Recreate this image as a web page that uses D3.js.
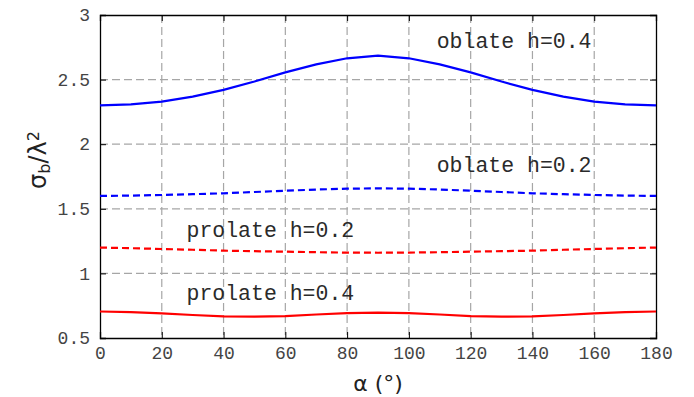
<!DOCTYPE html>
<html><head><meta charset="utf-8">
<script src="https://cdn.jsdelivr.net/npm/d3@7"></script>
<style>
html,body{margin:0;padding:0;background:#fff;}
svg{display:block;}
</style></head>
<body>
<svg id="chart" width="694" height="397"></svg>
<script>
const alpha = [0,10,20,30,40,50,60,70,80,90,100,110,120,130,140,150,160,170,180];
const oblate04 = [2.300,2.308,2.329,2.368,2.420,2.485,2.556,2.618,2.665,2.685,2.665,2.618,2.556,2.485,2.420,2.368,2.329,2.308,2.300];
const oblate02 = [1.600,1.602,1.607,1.613,1.620,1.630,1.640,1.649,1.656,1.658,1.656,1.649,1.640,1.630,1.620,1.613,1.607,1.602,1.600];
const prolate02 = [1.200,1.195,1.189,1.183,1.176,1.172,1.168,1.164,1.161,1.160,1.161,1.164,1.168,1.172,1.176,1.183,1.189,1.195,1.200];
const prolate04 = [0.705,0.700,0.690,0.678,0.668,0.665,0.670,0.682,0.692,0.697,0.692,0.682,0.670,0.665,0.668,0.678,0.690,0.700,0.705];
const xTicks = [0,20,40,60,80,100,120,140,160,180];
const yTicks = [0.5,1,1.5,2,2.5,3];
const yTickLabels = ["0.5","1","1.5","2","2.5","3"];
const seriesNames = ["oblate h=0.4","oblate h=0.2","prolate h=0.2","prolate h=0.4"];
const labelAlpha = [109,109,28,28];
const labelValue = [2.745,1.788,1.282,0.794];

const svg = d3.select("#chart");
const L = 100, R = 656, T = 15, B = 338;
const x = d3.scaleLinear().domain([0,180]).range([L,R]);
const y = d3.scaleLinear().domain([0.5,3]).range([B,T]);
const mono = "'Liberation Mono','Courier New',monospace";

// grid
const g = svg.append("g");
g.selectAll("line.vg").data(xTicks.slice(1,-1)).enter().append("line")
  .attr("x1",d=>x(d)).attr("x2",d=>x(d)).attr("y1",T).attr("y2",B)
  .attr("stroke","#a6a6a6").attr("stroke-width",1.2).attr("stroke-dasharray","8,4");
g.selectAll("line.hg").data(yTicks.slice(1,-1)).enter().append("line")
  .attr("x1",L).attr("x2",R).attr("y1",d=>y(d)).attr("y2",d=>y(d))
  .attr("stroke","#a6a6a6").attr("stroke-width",1.2).attr("stroke-dasharray","8,4");

// axes with inward ticks
const tl = 6;
const xb = svg.append("g").attr("transform",`translate(0,${B})`)
  .call(d3.axisBottom(x).tickValues(xTicks).tickSize(-tl).tickPadding(8).tickFormat(d3.format("d")));
const xt = svg.append("g").attr("transform",`translate(0,${T})`)
  .call(d3.axisTop(x).tickValues(xTicks).tickSize(-tl).tickFormat(""));
const yl = svg.append("g").attr("transform",`translate(${L},0)`)
  .call(d3.axisLeft(y).tickValues(yTicks).tickSize(-tl).tickPadding(10).tickFormat((d,i)=>yTickLabels[i]));
const yr = svg.append("g").attr("transform",`translate(${R},0)`)
  .call(d3.axisRight(y).tickValues(yTicks).tickSize(-tl).tickFormat(""));
[xb,xt,yl,yr].forEach(a=>{
  a.select(".domain").attr("stroke","#000").attr("stroke-width",1.3);
  a.selectAll(".tick line").attr("stroke","#000");
  a.selectAll("text").attr("font-family",mono).attr("font-size",18).attr("fill","#444");
});

// lines
const line = d3.line().x((d,i)=>x(alpha[i])).y(d=>y(d));
const series = [
  {v:oblate04, c:"#0000ff", dash:null},
  {v:oblate02, c:"#0000ff", dash:"7,4"},
  {v:prolate02, c:"#ff0000", dash:"7,4"},
  {v:prolate04, c:"#ff0000", dash:null}
];
series.forEach(s=>{
  svg.append("path").attr("d",line(s.v)).attr("fill","none")
    .attr("stroke",s.c).attr("stroke-width",2.2)
    .attr("stroke-dasharray",s.dash);
});

// labels
svg.selectAll("text.ann").data(seriesNames).enter().append("text")
  .attr("class","ann")
  .attr("x",(d,i)=>x(labelAlpha[i])).attr("y",(d,i)=>y(labelValue[i]))
  .attr("font-family",mono).attr("font-size",21.5).attr("fill","#2a2a2a")
  .text(d=>d);

// axis titles
svg.append("text").attr("x",(L+R)/2).attr("y",391).attr("text-anchor","middle")
  .attr("font-family","'DejaVu Sans',sans-serif").attr("font-size",22).attr("fill","#222")
  .text("α (°)");
const yt = svg.append("text").attr("transform",`translate(46,160) rotate(-90)`)
  .attr("text-anchor","middle")
  .attr("font-family","'DejaVu Sans',sans-serif").attr("font-size",24).attr("fill","#222");
yt.append("tspan").text("σ");
yt.append("tspan").attr("baseline-shift","-25%").attr("font-size",16).text("b");
yt.append("tspan").text("/λ");
yt.append("tspan").attr("baseline-shift","45%").attr("font-size",16).text("2");
</script>
</body></html>
